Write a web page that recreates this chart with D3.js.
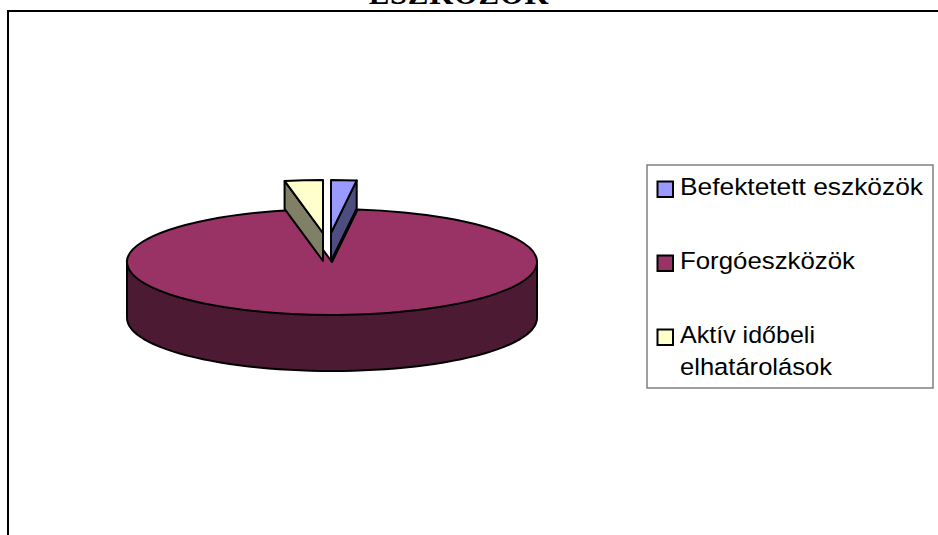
<!DOCTYPE html>
<html>
<head>
<meta charset="utf-8">
<script src="https://cdn.jsdelivr.net/npm/d3@7"></script>
<style>
    html, body { margin: 0; padding: 0; background: #fff; overflow: hidden; }
    svg { display: block; }
</style>
</head>
<body>
<div id="chart"></div>
<script>
const titleText = "ESZKÖZÖK";
const categories = ["Befektetett eszközök", "Forgóeszközök", "Aktív időbeli elhatárolások"];
const values = [2, 95, 3];
const legendLines = [["Befektetett eszközök"], ["Forgóeszközök"], ["Aktív időbeli", "elhatárolások"]];
const topColors = ["#9999ff", "#993366", "#ffffcc"];
const sideColors = ["#4d4d80", "#4d1a33", "#808066"];

const width = 938;
const height = 535;
const cx = 332, cy = 262, rx = 205, ry = 53;
const depth = 56;
const sliceDepth = 28;
// exploded slices, moved up out of the pie
const offsets = [{ dx: -1, dy: -29 }, { dx: 0, dy: 0 }, { dx: -9, dy: -29 }];
// the legend text is a bit stretched sideways in the original
const legendWidths = { "Befektetett eszközök": 243, "Forgóeszközök": 175, "Aktív időbeli": 135, "elhatárolások": 152 };

const svg = d3.select("#chart").append("svg")
    .attr("width", width)
    .attr("height", height);

// ---- Frame ----
svg.append("rect")
    .attr("x", 8)
    .attr("y", 11)
    .attr("width", width + 20)
    .attr("height", height + 20)
    .attr("fill", "#fff")
    .attr("stroke", "#000")
    .attr("stroke-width", 2);

svg.append("text")
    .attr("x", 459)
    .attr("y", 3.5)
    .attr("text-anchor", "middle")
    .style("font-family", "'Liberation Serif', serif")
    .style("font-weight", "bold")
    .style("font-size", "31px")
    .style("letter-spacing", "0.6px")
    .text(titleText);

// ---- Pie ----
const pie = d3.pie().sort(null).value(d => d);
const slices = pie(values);
const arc = d3.arc().innerRadius(0).outerRadius(rx);
const yScale = ry / rx;
const edge = (angle, o, drop) => [
    cx + o.dx + rx * Math.sin(angle),
    cy + o.dy + drop - ry * Math.cos(angle)
];
const line = d3.line();

// big slice wall, front half of the ellipse
const frontAngles = d3.range(90, 271, 3).map(d => d * Math.PI / 180);
const wall = [edge(Math.PI / 2, offsets[1], 0)]
    .concat(frontAngles.map(a => edge(a, offsets[1], depth)))
    .concat([edge(Math.PI * 1.5, offsets[1], 0)]);

svg.append("path")
    .attr("d", line(wall) + "Z")
    .attr("fill", sideColors[1])
    .attr("stroke", "#000")
    .attr("stroke-width", 2)
    .attr("stroke-linejoin", "round");

// small slice walls, on the side that faces the big slice
const wallAngle = [slices[0].endAngle, null, slices[2].startAngle];

const drawTop = i => {
    const o = offsets[i];
    svg.append("g")
        .attr("transform", `translate(${cx + o.dx}, ${cy + o.dy}) scale(1, ${yScale})`)
        .append("path")
        .attr("d", arc(slices[i]))
        .attr("fill", topColors[i])
        .attr("stroke", "#000")
        .attr("stroke-width", 2)
        .attr("stroke-linejoin", "round")
        .attr("vector-effect", "non-scaling-stroke");
};

drawTop(1);

[0, 2].forEach(i => {
    const o = offsets[i];
    const apexTop = [cx + o.dx, cy + o.dy];
    const apexBottom = [cx + o.dx, cy + o.dy + sliceDepth];
    svg.append("path")
        .attr("d", line([
            apexTop,
            apexBottom,
            edge(wallAngle[i], o, sliceDepth),
            edge(wallAngle[i], o, 0)
        ]) + "Z")
        .attr("fill", sideColors[i])
        .attr("stroke", "#000")
        .attr("stroke-width", 2)
        .attr("stroke-linejoin", "round");
    drawTop(i);
});

// ---- Legend ----
const legend = svg.append("g");

legend.append("rect")
    .attr("x", 647)
    .attr("y", 165)
    .attr("width", 286)
    .attr("height", 223)
    .attr("fill", "#fff")
    .attr("stroke", "#808080")
    .attr("stroke-width", 1.5);

const legendY = d3.scalePoint()
    .domain(categories)
    .range([195, 343]);

const item = legend.selectAll(".item")
    .data(categories)
    .enter()
    .append("g")
    .attr("class", "item")
    .attr("transform", d => `translate(0, ${legendY(d)})`);

item.append("rect")
    .attr("x", 657.5)
    .attr("y", -13.5)
    .attr("width", 15.5)
    .attr("height", 15.5)
    .attr("fill", (d, i) => topColors[i])
    .attr("stroke", "#000")
    .attr("stroke-width", 2);

item.selectAll("text")
    .data((d, i) => legendLines[i])
    .enter()
    .append("text")
    .attr("x", 680)
    .attr("y", (d, i) => i * 32)
    .attr("textLength", d => legendWidths[d])
    .attr("lengthAdjust", "spacingAndGlyphs")
    .style("font-family", "'Liberation Sans', sans-serif")
    .style("font-size", "24.5px")
    .style("fill", "#000")
    .text(d => d);
</script>
</body>
</html>
